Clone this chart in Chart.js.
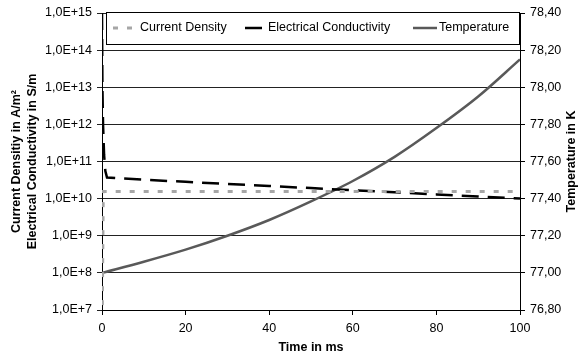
<!DOCTYPE html>
<html>
<head>
<meta charset="utf-8">
<script src="https://cdn.jsdelivr.net/npm/chart.js@4"></script>
<style>
  body { margin: 0; background: #fff; }
  #wrap { width: 582px; height: 358px; }
</style>
</head>
<body>
<div id="wrap"><canvas id="chart"></canvas></div>
<script>
// values
const timeCd = [0, 0.3, 100];
const currentDensity = [1e6, 1.55e10, 1.55e10];

const timeSigma = [0, 0.1, 0.25, 0.5, 0.8, 1.2, 10, 20, 30, 40, 50, 60, 70, 80, 90, 100];
const conductivity = [1e15, 1e13, 1e12, 1.5e11, 5.5e10, 3.7e10, 3.23e10, 2.84e10, 2.49e10,
                      2.19e10, 1.92e10, 1.68e10, 1.48e10, 1.3e10, 1.14e10, 1.0e10];

const timeTemp = [0, 10, 20, 30, 40, 50, 60, 70, 80, 90, 100];
const temperature = [77.00, 77.06, 77.125, 77.20, 77.285, 77.385, 77.495, 77.625, 77.78, 77.95, 78.15];

const logTicks = [1e7, 1e8, 1e9, 1e10, 1e11, 1e12, 1e13, 1e14, 1e15];

const FONT = '"Liberation Sans", Arial, sans-serif';
Chart.defaults.font.family = FONT;
Chart.defaults.font.size = 12.5;
Chart.defaults.color = '#000';

const toPoints = (xs, ys) => xs.map((x, i) => ({ x: x, y: ys[i] }));

// legend box drawn inside the plot, like the original
const legendBox = {
    id: 'legendBox',
    afterDatasetsDraw(chart) {
        const { ctx, chartArea } = chart;
        const left = chartArea.left + 4, top = chartArea.top - 1;
        const right = chartArea.right, bottom = chartArea.top + 31;
        const sampleX = [[113, 133], [245, 265], [413, 437]];
        const textX = [140, 268, 439];
        ctx.save();
        ctx.fillStyle = '#fff';
        ctx.fillRect(left, top, right - left, bottom - top);
        ctx.strokeStyle = '#000';
        ctx.lineWidth = 1;
        ctx.strokeRect(left + 0.5, top + 0.5, right - left - 1, bottom - top);
        const ly = top + 16;
        chart.data.datasets.forEach((ds, i) => {
            ctx.setLineDash(ds.borderDash || []);
            ctx.strokeStyle = ds.borderColor;
            ctx.lineWidth = ds.borderWidth;
            ctx.beginPath();
            ctx.moveTo(sampleX[i][0], ly);
            ctx.lineTo(sampleX[i][1], ly);
            ctx.stroke();
            ctx.setLineDash([]);
            ctx.fillStyle = '#000';
            ctx.font = '12.5px ' + FONT;
            ctx.textBaseline = 'middle';
            ctx.fillText(ds.label, textX[i], ly);
        });
        ctx.restore();
    }
};

// right axis title reads bottom to top in the original
const rightTitle = {
    id: 'rightTitle',
    afterDraw(chart) {
        const { ctx, chartArea } = chart;
        ctx.save();
        ctx.translate(572, (chartArea.top + chartArea.bottom) / 2);
        ctx.rotate(-Math.PI / 2);
        ctx.font = 'bold 12.5px ' + FONT;
        ctx.fillStyle = '#000';
        ctx.textAlign = 'center';
        ctx.textBaseline = 'middle';
        ctx.fillText('Temperature in K', 0, 0);
        ctx.restore();
    }
};

new Chart(document.getElementById('chart'), {
    type: 'line',
    data: {
        datasets: [
            {
                label: 'Current Density',
                data: toPoints(timeCd, currentDensity),
                yAxisID: 'y',
                borderColor: '#a6a6a6',
                borderWidth: 3,
                borderDash: [5, 9],
                pointRadius: 0,
                tension: 0
            },
            {
                label: 'Electrical Conductivity',
                data: toPoints(timeSigma, conductivity),
                yAxisID: 'y',
                borderColor: '#000',
                borderWidth: 2.5,
                borderDash: [17, 9],
                pointRadius: 0,
                tension: 0
            },
            {
                label: 'Temperature',
                data: toPoints(timeTemp, temperature),
                yAxisID: 'y1',
                borderColor: '#595959',
                borderWidth: 2.5,
                pointRadius: 0,
                cubicInterpolationMode: 'monotone'
            }
        ]
    },
    options: {
        responsive: true,
        maintainAspectRatio: false,
        animation: false,
        layout: { padding: { top: 13, left: 0, right: 0, bottom: 0 } },
        plugins: {
            legend: { display: false },
            tooltip: { enabled: false }
        },
        scales: {
            x: {
                type: 'linear',
                min: 0,
                max: 100,
                ticks: { stepSize: 20, padding: 6, maxRotation: 0 },
                grid: { drawOnChartArea: false, tickLength: 5, color: '#000' },
                border: { color: '#000' },
                title: {
                    display: true,
                    text: 'Time in ms',
                    font: { weight: 'bold', size: 12.5 },
                    padding: { top: 0, bottom: 3 }
                },
                afterFit: (scale) => { scale.height = 48; }
            },
            y: {
                type: 'logarithmic',
                position: 'left',
                min: 1e7,
                max: 1e15,
                afterBuildTicks: (scale) => { scale.ticks = logTicks.map(v => ({ value: v })); },
                ticks: {
                    padding: 5,
                    callback: (v) => v.toExponential(1).replace('.', ',').replace('e', 'E')
                },
                grid: { color: '#222', tickLength: 5 },
                border: { color: '#000' },
                title: {
                    display: true,
                    text: ['Current Densitiy in A/m\u00b2', 'Electrical Conductivity in S/m'],
                    font: { weight: 'bold', size: 12.5, lineHeight: 1.25 },
                    padding: { top: 9, bottom: 0 }
                },
                afterFit: (scale) => { scale.width = 102; }
            },
            y1: {
                type: 'linear',
                position: 'right',
                min: 76.8,
                max: 78.4,
                ticks: {
                    stepSize: 0.2,
                    padding: 5,
                    callback: (v) => v.toFixed(2).replace('.', ',')
                },
                grid: { drawOnChartArea: false, tickLength: 5, color: '#000' },
                border: { color: '#000' },
                afterFit: (scale) => { scale.width = 62; }
            }
        }
    },
    plugins: [legendBox, rightTitle]
});
</script>
</body>
</html>
